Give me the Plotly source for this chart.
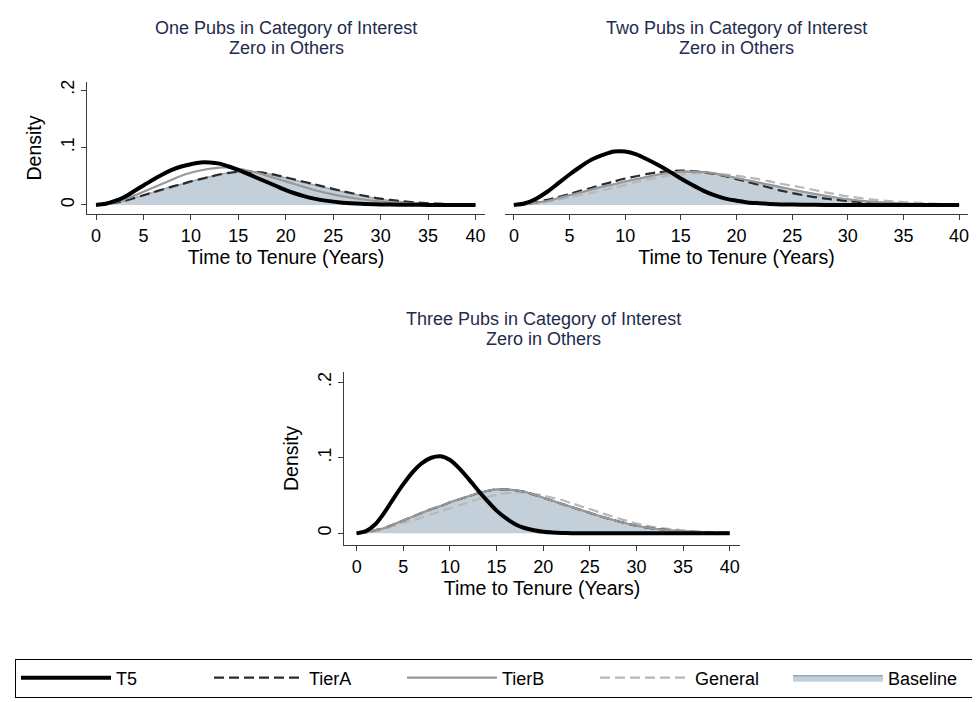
import plotly.graph_objects as go

# Years to tenure: 1-year steps to 24, then 2-year steps
years = list(range(0, 25)) + list(range(26, 41, 2))

# Baseline density (zero pubs) - same shaded area in every panel
baseline = [0, 0.001, 0.004, 0.007, 0.012, 0.017, 0.022, 0.027, 0.032, 0.036, 0.041,
            0.045, 0.049, 0.053, 0.056, 0.058, 0.058, 0.057, 0.055, 0.051, 0.047,
            0.043, 0.039, 0.035, 0.031,
            0.023, 0.016, 0.010, 0.006, 0.0035, 0.002, 0.001, 0.0005]

# One pub in category of interest
t5_one = [0, 0.002, 0.007, 0.014, 0.024, 0.034, 0.044, 0.053, 0.061, 0.067, 0.071,
          0.074, 0.074, 0.072, 0.067, 0.061, 0.054, 0.047, 0.040, 0.033, 0.026,
          0.020, 0.015, 0.011, 0.008,
          0.004, 0.002, 0.001, 0.0004, 0.0002, 0.0001, 0, 0]
tiera_one = [0, 0.001, 0.004, 0.007, 0.012, 0.017, 0.022, 0.027, 0.032, 0.036, 0.041,
             0.045, 0.049, 0.053, 0.056, 0.058, 0.058, 0.057, 0.055, 0.052, 0.048,
             0.044, 0.040, 0.036, 0.032,
             0.024, 0.017, 0.011, 0.007, 0.004, 0.0022, 0.0012, 0.0006]
tierb_one = [0, 0.001, 0.005, 0.010, 0.016, 0.023, 0.030, 0.037, 0.044, 0.051, 0.056,
             0.060, 0.063, 0.065, 0.065, 0.063, 0.060, 0.056, 0.051, 0.046, 0.041,
             0.036, 0.031, 0.026, 0.022,
             0.015, 0.010, 0.006, 0.0035, 0.002, 0.001, 0.0005, 0.0002]
general_one = [0, 0.001, 0.004, 0.007, 0.011, 0.016, 0.021, 0.026, 0.031, 0.036, 0.040,
               0.045, 0.049, 0.052, 0.055, 0.057, 0.058, 0.057, 0.055, 0.051, 0.047,
               0.043, 0.039, 0.035, 0.031,
               0.023, 0.016, 0.010, 0.006, 0.0035, 0.002, 0.001, 0.0005]

# Two pubs
t5_two = [0, 0.003, 0.011, 0.023, 0.038, 0.053, 0.067, 0.079, 0.087, 0.093, 0.093,
          0.088, 0.079, 0.069, 0.058, 0.046, 0.035, 0.025, 0.017, 0.011, 0.0075,
          0.0045, 0.003, 0.0018, 0.001,
          0.0004, 0.0001, 0, 0, 0, 0, 0, 0]
tiera_two = [0, 0.001, 0.005, 0.009, 0.014, 0.019, 0.025, 0.030, 0.036, 0.041, 0.046,
             0.050, 0.054, 0.057, 0.059, 0.060, 0.059, 0.057, 0.054, 0.050, 0.045,
             0.040, 0.035, 0.030, 0.025,
             0.017, 0.011, 0.007, 0.004, 0.002, 0.001, 0.0005, 0.0002]
tierb_two = [0, 0.001, 0.004, 0.007, 0.012, 0.017, 0.022, 0.027, 0.032, 0.036, 0.041,
             0.045, 0.049, 0.053, 0.056, 0.058, 0.058, 0.057, 0.055, 0.051, 0.047,
             0.043, 0.039, 0.035, 0.031,
             0.023, 0.016, 0.010, 0.006, 0.0035, 0.002, 0.001, 0.0005]
general_two = [0, 0.001, 0.003, 0.006, 0.009, 0.013, 0.017, 0.021, 0.026, 0.030, 0.035,
               0.040, 0.044, 0.048, 0.051, 0.053, 0.055, 0.055, 0.055, 0.053, 0.051,
               0.048, 0.045, 0.041, 0.037,
               0.030, 0.022, 0.015, 0.010, 0.0065, 0.004, 0.002, 0.001]

# Three pubs
t5_three = [0, 0.003, 0.012, 0.028, 0.047, 0.065, 0.081, 0.093, 0.100, 0.102, 0.097,
            0.086, 0.072, 0.057, 0.043, 0.030, 0.020, 0.012, 0.007, 0.004, 0.002,
            0.001, 0.0005, 0.0002, 0.0001,
            0, 0, 0, 0, 0, 0, 0, 0]
tiera_three = [0, 0.001, 0.004, 0.007, 0.012, 0.017, 0.022, 0.027, 0.032, 0.036, 0.041,
               0.045, 0.049, 0.053, 0.056, 0.058, 0.058, 0.057, 0.055, 0.051, 0.047,
               0.043, 0.039, 0.035, 0.031,
               0.023, 0.016, 0.010, 0.006, 0.0035, 0.002, 0.001, 0.0005]
tierb_three = [0, 0.001, 0.004, 0.007, 0.012, 0.017, 0.022, 0.027, 0.032, 0.036, 0.041,
               0.045, 0.049, 0.053, 0.056, 0.058, 0.058, 0.057, 0.055, 0.051, 0.047,
               0.043, 0.039, 0.035, 0.031,
               0.023, 0.016, 0.010, 0.006, 0.0035, 0.002, 0.001, 0.0005]
general_three = [0, 0.001, 0.003, 0.006, 0.010, 0.014, 0.017, 0.021, 0.025, 0.029, 0.033,
                 0.037, 0.041, 0.045, 0.048, 0.051, 0.053, 0.054, 0.054, 0.052, 0.050,
                 0.047, 0.044, 0.040, 0.036,
                 0.028, 0.020, 0.013, 0.008, 0.005, 0.003, 0.0015, 0.0007]

panel_titles = [
    ("One Pubs in Category of Interest", "Zero in Others"),
    ("Two Pubs in Category of Interest", "Zero in Others"),
    ("Three Pubs in Category of Interest", "Zero in Others"),
]
x_ticks = list(range(0, 41, 5))
y_ticks = [0, 0.1, 0.2]
y_ticktext = ["0", ".1", ".2"]

FONT = "Liberation Sans, Arial, sans-serif"
TITLE_COLOR = "#1f2b4d"
AXIS_COLOR = "#3a3a3a"
FILL = "rgb(196,208,217)"
FILL_EDGE = "rgb(150,168,182)"

W, H = 980, 702
PAGE_PAD = 8  # default body margin of the html page


def px(x):
    # screen pixel -> paper x fraction
    return (x - PAGE_PAD) / W


def py(y):
    # screen pixel -> paper y fraction
    return 1 - (y - PAGE_PAD) / H


panels = [
    ("x", "y", t5_one, tiera_one, tierb_one, general_one),
    ("x2", "y2", t5_two, tiera_two, tierb_two, general_two),
    ("x3", "y3", t5_three, tiera_three, tierb_three, general_three),
]

fig = go.Figure()
for i, (xa, ya, t5, ta, tb, gen) in enumerate(panels):
    first = i == 0
    common = dict(x=years, xaxis=xa, yaxis=ya, mode="lines", line_shape="spline",
                  hoverinfo="skip")
    fig.add_trace(go.Scatter(y=baseline, name="Baseline", fill="tozeroy", fillcolor=FILL,
                             line=dict(color=FILL_EDGE, width=1.5, smoothing=0.8),
                             showlegend=first, legendrank=5, **common))
    fig.add_trace(go.Scatter(y=gen, name="General",
                             line=dict(color="#b8b8b8", width=2.2, dash="10px,5px", smoothing=0.8),
                             showlegend=first, legendrank=4, **common))
    fig.add_trace(go.Scatter(y=ta, name="TierA",
                             line=dict(color="#2b2b2b", width=2.2, dash="10px,5px", smoothing=0.8),
                             showlegend=first, legendrank=2, **common))
    fig.add_trace(go.Scatter(y=tb, name="TierB",
                             line=dict(color="#989898", width=2.2, smoothing=0.8),
                             showlegend=first, legendrank=3, **common))
    fig.add_trace(go.Scatter(y=t5, name="T5",
                             line=dict(color="black", width=4, smoothing=0.8),
                             showlegend=first, legendrank=1, **common))

xstyle = dict(tickvals=x_ticks, ticks="outside", ticklen=5, tickcolor=AXIS_COLOR,
              showline=True, linecolor=AXIS_COLOR, linewidth=1, showgrid=False,
              zeroline=False, tickfont=dict(size=18, color="black"),
              title=dict(text="Time to Tenure (Years)", font=dict(size=19.5, color="black"),
                         standoff=0))
ystyle = dict(tickvals=y_ticks, ticktext=y_ticktext, tickangle=-90, ticks="outside",
              ticklen=5, tickcolor=AXIS_COLOR, showline=True, linecolor=AXIS_COLOR,
              linewidth=1, showgrid=False, zeroline=False,
              tickfont=dict(size=18, color="black"),
              title=dict(text="Density", font=dict(size=19.5, color="black"), standoff=10))

fig.update_layout(
    width=W, height=H,
    margin=dict(l=0, r=0, t=0, b=0, autoexpand=False),
    paper_bgcolor="white", plot_bgcolor="white",
    font=dict(family=FONT, color="black"),
    xaxis=dict(domain=[px(87), px(485)], range=[-0.95, 41.0], anchor="y", **xstyle),
    yaxis=dict(domain=[py(214), py(82)], range=[-0.0157, 0.214], anchor="x", **ystyle),
    xaxis2=dict(domain=[px(505), px(968)], range=[-0.8, 40.8], anchor="y2", **xstyle),
    yaxis2=dict(domain=[py(214), py(82)], range=[-0.0157, 0.214], anchor="x2",
                visible=False),
    xaxis3=dict(domain=[px(344), px(740)], range=[-1.36, 41.1], anchor="y3", **xstyle),
    yaxis3=dict(domain=[py(545), py(372)], range=[-0.0155, 0.2135], anchor="x3",
                **ystyle),
    legend=dict(orientation="h", x=px(15), y=py(678), xanchor="left", yanchor="middle",
                bordercolor="black", borderwidth=1, bgcolor="white",
                font=dict(size=18, color="black"), itemwidth=90,
                entrywidth=88, entrywidthmode="pixels", traceorder="normal"),
    showlegend=True,
)

title_pos = [(286, 28), (736, 28), (543, 319)]
for (line1, line2), (cx, cy) in zip(panel_titles, title_pos):
    for text, dy in ((line1, 0), (line2, 20)):
        fig.add_annotation(text=text, x=px(cx), y=py(cy + dy), xref="paper",
                           yref="paper", showarrow=False, xanchor="center", yanchor="middle",
                           font=dict(size=18, color=TITLE_COLOR))

fig.write_html("out.html")
